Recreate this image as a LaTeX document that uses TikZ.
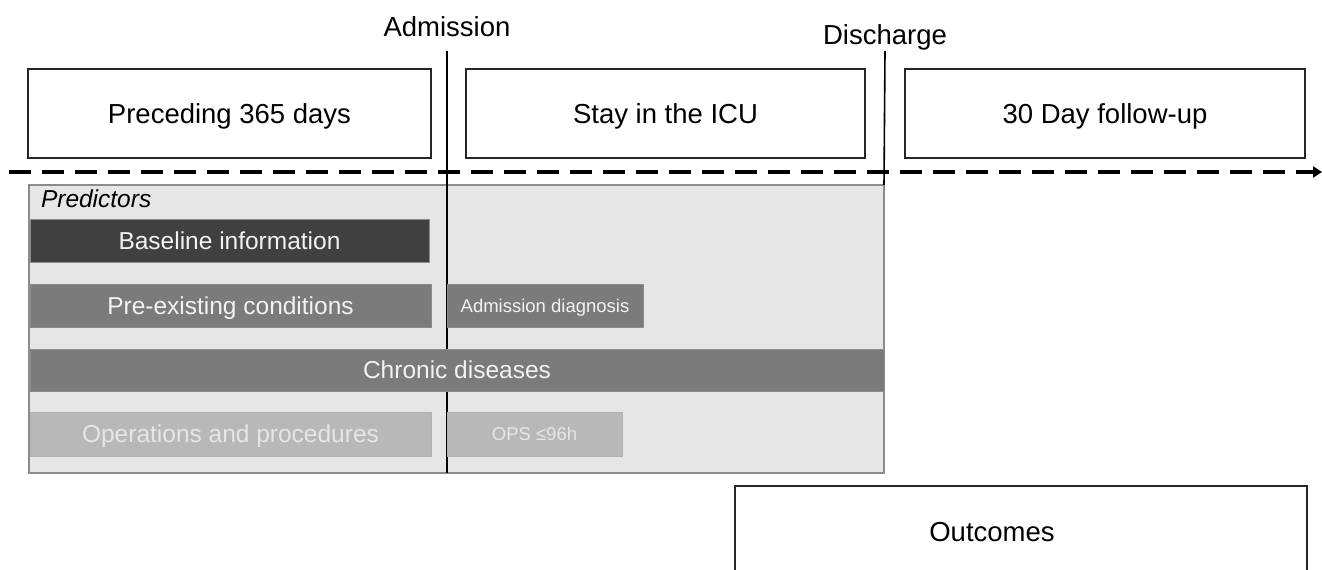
\documentclass[tikz,border=0pt]{standalone}
\usepackage{fontspec}
\setmainfont{Liberation Sans}
\usetikzlibrary{arrows.meta}
\definecolor{dkbar}{HTML}{404040}
\definecolor{mdbar}{HTML}{7B7B7B}
\definecolor{ltbar}{HTML}{B8B8B8}
\definecolor{predfill}{HTML}{E6E6E6}
\definecolor{predline}{HTML}{8C8C8C}
\definecolor{bartext}{HTML}{F2F2F2}
\definecolor{lttext}{HTML}{E6E6E6}
\tikzset{
  every node/.style={inner sep=0pt, outer sep=0pt},
  phasebox/.style={draw=black!85, line width=1.6pt, fill=white, anchor=north west,
    font=\fontsize{27.5}{32}\selectfont, text height=19.7pt, text depth=0pt},
  bar/.style={anchor=north west, draw=black!45, line width=0.8pt,
    font=\fontsize{24.5}{29}\selectfont, text=bartext, text height=17.5pt, text depth=0pt},
  smallbar/.style={bar, font=\fontsize{18.5}{22}\selectfont, text height=13.2pt},
  lbl/.style={font=\fontsize{27.5}{32}\selectfont},
  vline/.style={line width=1.6pt, black},
}
\begin{document}
\begin{tikzpicture}[x=1pt,y=-1pt]
\useasboundingbox (0,0) rectangle (1322,570);
\clip (0,0) rectangle (1322,570);
% phase boxes
\node[phasebox, minimum width=403, minimum height=89] (prec) at (28,69) {Preceding 365 days};
\node[phasebox, minimum width=399, minimum height=89] (stay) at (466,69) {Stay in the ICU};
\node[phasebox, minimum width=400, minimum height=89] (follow) at (905,69) {30 Day follow-up};
% timeline
\coordinate (tl0) at (9,172);
\coordinate (tl1) at (1322,172);
\draw[line width=3.8pt, dash pattern=on 22pt off 11pt, -{Triangle[length=9pt,width=11pt]}] (tl0) -- (tl1);
% predictors box
\node[anchor=north west, fill=predfill, draw=predline, line width=1.2pt, minimum width=855, minimum height=288] (pred) at (29,185) {};
\node[anchor=north west, font=\fontsize{24.5}{29}\selectfont\itshape] (predlbl) at (41,190) {Predictors};
% event labels and lines
\node[lbl] (adm) at (447,27) {Admission};
\node[lbl] (dis) at (885,37) {Discharge};
\coordinate (admtop) at (447,51);
\coordinate (admbot) at (447,473);
\coordinate (distop) at (885,51);
\draw[vline] (admtop) -- (admbot);
\draw[vline] (distop) -- (pred.north east);
% bars
\node[bar, fill=dkbar, minimum width=399, minimum height=43] (base) at (30,219) {Baseline information};
\node[bar, fill=mdbar, minimum width=401, minimum height=43] (pre) at (30,284) {Pre-existing conditions};
\node[smallbar, fill=mdbar, minimum width=196, minimum height=43] (admdx) at (447,284) {Admission diagnosis};
\node[bar, fill=mdbar, minimum width=854, minimum height=42] (chron) at (30,349) {Chronic diseases};
\node[bar, fill=ltbar, draw=black!30, text=lttext, minimum width=401, minimum height=44] (ops) at (30,412) {Operations and procedures};
\node[smallbar, fill=ltbar, draw=black!30, text=lttext, minimum width=175, minimum height=44] (ops96) at (447,412) {OPS ≤96h};
% outcomes
\node[phasebox, minimum width=572, minimum height=100] (out) at (735,486) {};
\node[lbl, text height=19.7pt, text depth=0pt] (outlbl) at (992,532) {Outcomes};
\end{tikzpicture}
\end{document}
